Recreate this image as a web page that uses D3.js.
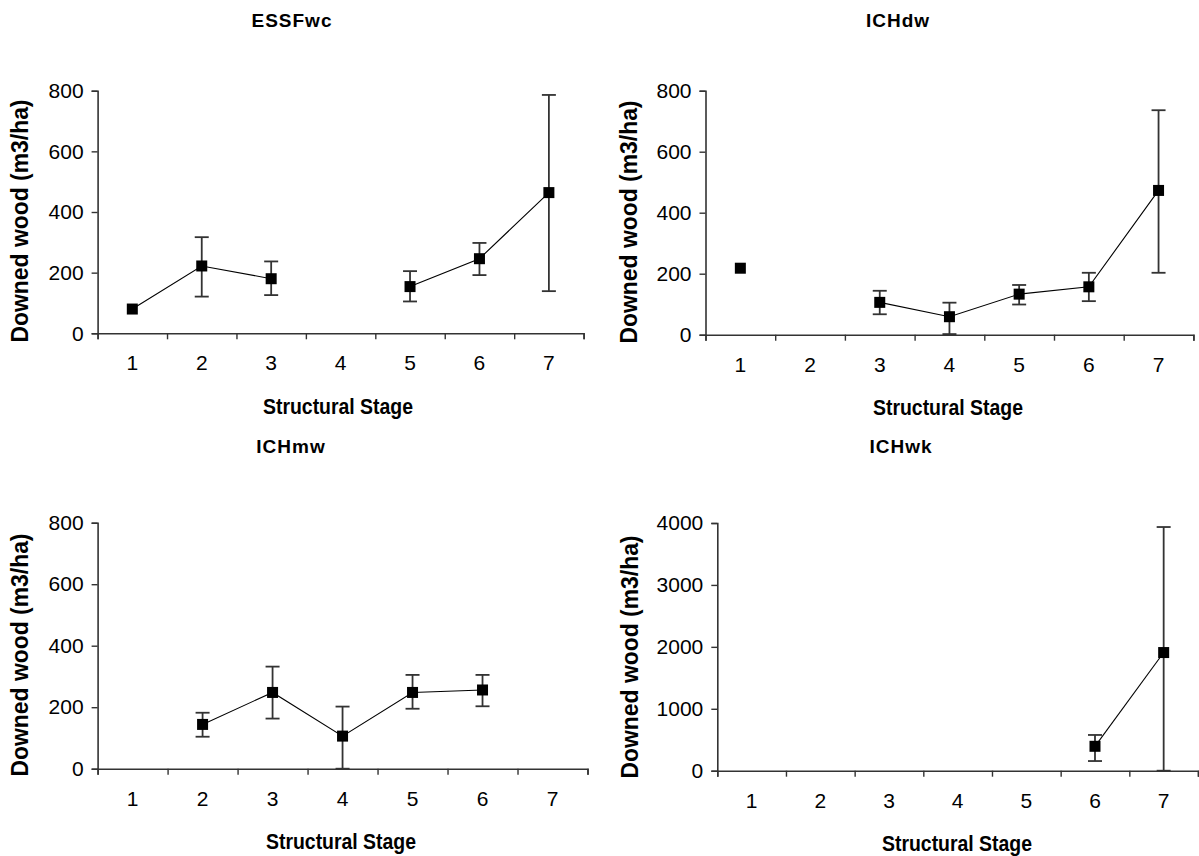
<!DOCTYPE html>
<html>
<head>
<meta charset="utf-8">
<script src="https://cdn.jsdelivr.net/npm/d3@7"></script>
<style>
  html, body { margin: 0; padding: 0; background: #fff; }
  svg { display: block; }
  text { font-family: "Liberation Sans", Arial, sans-serif; fill: #000; }
</style>
</head>
<body>
<svg id="chart" width="1199" height="856"></svg>
<script>
// Structural stages on the x axis
const stages = [1, 2, 3, 4, 5, 6, 7];

// Downed wood volume (m3/ha): mean and error-bar limits per stage (null = no plot)
const essfwcMean = [80, 222, 180, null, 154, 246, 464];
const essfwcLow  = [null, 121, 126, null, 105, 192, 139];
const essfwcHigh = [null, 317, 237, null, 205, 298, 786];

const ichdwMean = [218, null, 106, 59, 133, 157, 473];
const ichdwLow  = [null, null, 67, 2, 99, 110, 203];
const ichdwHigh = [null, null, 144, 105, 163, 203, 736];

const ichmwMean = [null, 144, 248, 106, 248, 256, null];
const ichmwLow  = [null, 104, 163, 0, 195, 203, null];
const ichmwHigh = [null, 182, 332, 202, 305, 305, null];

const ichwkMean = [null, null, null, null, null, 394, 1908];
const ichwkLow  = [null, null, null, null, null, 156, 0];
const ichwkHigh = [null, null, null, null, null, 577, 3935];

// y-axis tick labels per panel
const yTicksSmall = [0, 200, 400, 600, 800];
const yTicksLarge = [0, 1000, 2000, 3000, 4000];

const zoneNames = ["ESSFwc", "ICHdw", "ICHmw", "ICHwk"];

const panels = [
  { name: zoneNames[0], mean: essfwcMean, low: essfwcLow, high: essfwcHigh, ticks: yTicksSmall,
    x0: 97.6, x1: 583.6, y0: 333.3, y1: 90.7, tx: 292, ty: 22, sx: 338, sy: 408, lx: 22, ly: 221 },
  { name: zoneNames[1], mean: ichdwMean, low: ichdwLow, high: ichdwHigh, ticks: yTicksSmall,
    x0: 705.5, x1: 1193.4, y0: 334.7, y1: 90.7, tx: 898, ty: 22, sx: 948, sy: 409, lx: 631, ly: 222 },
  { name: zoneNames[2], mean: ichmwMean, low: ichmwLow, high: ichmwHigh, ticks: yTicksSmall,
    x0: 97.6, x1: 587.5, y0: 768.7, y1: 522.7, tx: 291, ty: 448, sx: 341, sy: 843, lx: 22, ly: 655 },
  { name: zoneNames[3], mean: ichwkMean, low: ichwkLow, high: ichwkHigh, ticks: yTicksLarge,
    x0: 717.3, x1: 1198, y0: 770.7, y1: 523, tx: 901, ty: 448, sx: 957, sy: 845, lx: 632, ly: 657 }
];

const svg = d3.select("#chart");
const axisColor = "#333";
const fontFam = "'Liberation Sans', Arial, sans-serif";

panels.forEach(p => {
  const g = svg.append("g");

  const x = d3.scaleBand().domain(stages).range([p.x0, p.x1]).paddingInner(0).paddingOuter(0);
  const xEdge = d3.scaleLinear().domain([0.5, 7.5]).range([p.x0, p.x1]);
  const y = d3.scaleLinear().domain([0, d3.max(p.ticks)]).range([p.y0, p.y1]);
  const cx = s => x(s) + x.bandwidth() / 2;

  // y axis
  const yAxis = g.append("g")
    .attr("transform", `translate(${p.x0},0)`)
    .call(d3.axisLeft(y).tickValues(p.ticks).tickSize(6).tickPadding(8).tickFormat(d3.format("d")));
  yAxis.select(".domain").attr("stroke", axisColor).attr("stroke-width", 1.6);
  yAxis.selectAll(".tick line").attr("stroke", axisColor).attr("stroke-width", 1.4);
  yAxis.selectAll(".tick text")
    .attr("font-size", 21).attr("fill", "#000").attr("font-family", fontFam);

  // x axis: ticks on category boundaries
  const xAxis = g.append("g")
    .attr("transform", `translate(0,${p.y0})`)
    .call(d3.axisBottom(xEdge).tickValues(d3.range(0.5, 8, 1)).tickSize(6).tickFormat(""));
  xAxis.select(".domain").attr("stroke", axisColor).attr("stroke-width", 1.6);
  xAxis.selectAll(".tick line").attr("stroke", axisColor).attr("stroke-width", 1.4);

  // x category labels at band centres
  const xLab = g.append("g")
    .attr("transform", `translate(0,${p.y0})`)
    .call(d3.axisBottom(x).tickSize(0).tickPadding(22));
  xLab.select(".domain").remove();
  xLab.selectAll(".tick text")
    .attr("font-size", 21).attr("fill", "#000").attr("font-family", fontFam);

  const pts = stages.map((s, i) => ({ s, m: p.mean[i], lo: p.low[i], hi: p.high[i] }));

  // connecting line (breaks where a stage has no value)
  const line = d3.line()
    .defined(d => d.m !== null)
    .x(d => cx(d.s))
    .y(d => y(d.m));
  g.append("path")
    .datum(pts)
    .attr("d", line)
    .attr("fill", "none")
    .attr("stroke", "#000")
    .attr("stroke-width", 1.1);

  // error bars
  const eb = pts.filter(d => d.m !== null && d.lo !== null);
  const capW = 7;
  const ebG = g.append("g").attr("stroke", axisColor).attr("stroke-width", 1.8);
  ebG.selectAll("line.v").data(eb).join("line")
    .attr("x1", d => cx(d.s)).attr("x2", d => cx(d.s))
    .attr("y1", d => y(d.lo)).attr("y2", d => y(d.hi));
  ebG.selectAll("line.top").data(eb).join("line")
    .attr("x1", d => cx(d.s) - capW).attr("x2", d => cx(d.s) + capW)
    .attr("y1", d => y(d.hi)).attr("y2", d => y(d.hi));
  ebG.selectAll("line.bot").data(eb).join("line")
    .attr("x1", d => cx(d.s) - capW).attr("x2", d => cx(d.s) + capW)
    .attr("y1", d => y(d.lo)).attr("y2", d => y(d.lo));

  // square markers
  const ms = 11;
  g.selectAll("rect.mk").data(pts.filter(d => d.m !== null)).join("rect")
    .attr("x", d => cx(d.s) - ms / 2)
    .attr("y", d => y(d.m) - ms / 2)
    .attr("width", ms).attr("height", ms)
    .attr("fill", "#000");

  // panel title
  g.append("text")
    .attr("x", p.tx).attr("y", p.ty)
    .attr("text-anchor", "middle").attr("dominant-baseline", "middle")
    .attr("font-size", 19).attr("font-weight", "bold").attr("letter-spacing", 1)
    .text(p.name);

  // axis titles
  g.append("text")
    .attr("x", p.sx).attr("y", p.sy)
    .attr("text-anchor", "middle").attr("dominant-baseline", "middle")
    .attr("font-size", 22).attr("font-weight", "bold")
    .attr("textLength", 150).attr("lengthAdjust", "spacingAndGlyphs")
    .text("Structural Stage");

  g.append("text")
    .attr("transform", `translate(${p.lx},${p.ly}) rotate(-90)`)
    .attr("text-anchor", "middle").attr("dominant-baseline", "middle")
    .attr("font-size", 23).attr("font-weight", "bold")
    .attr("textLength", 243).attr("lengthAdjust", "spacingAndGlyphs")
    .text("Downed wood (m3/ha)");
});
</script>
</body>
</html>
